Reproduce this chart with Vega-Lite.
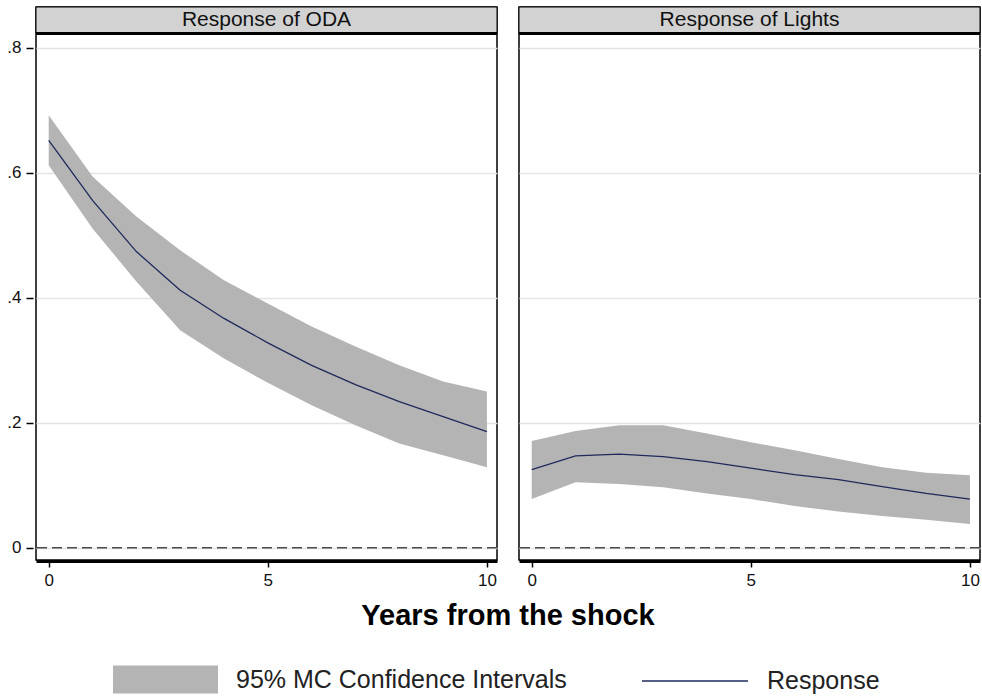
{
  "$schema": "https://vega.github.io/schema/vega-lite/v6.json",
  "background": "white",
  "padding": {"left": 6, "top": 5, "right": 0, "bottom": 0},
  "data": {"values": [
    {"panel": "Response of ODA", "x": 0, "y": 0.652, "lo": 0.612, "hi": 0.692},
    {"panel": "Response of ODA", "x": 1, "y": 0.556, "lo": 0.511, "hi": 0.594},
    {"panel": "Response of ODA", "x": 2, "y": 0.474, "lo": 0.426, "hi": 0.530},
    {"panel": "Response of ODA", "x": 3, "y": 0.412, "lo": 0.348, "hi": 0.476},
    {"panel": "Response of ODA", "x": 4, "y": 0.367, "lo": 0.303, "hi": 0.428},
    {"panel": "Response of ODA", "x": 5, "y": 0.328, "lo": 0.264, "hi": 0.391},
    {"panel": "Response of ODA", "x": 6, "y": 0.292, "lo": 0.228, "hi": 0.354},
    {"panel": "Response of ODA", "x": 7, "y": 0.261, "lo": 0.196, "hi": 0.322},
    {"panel": "Response of ODA", "x": 8, "y": 0.234, "lo": 0.167, "hi": 0.292},
    {"panel": "Response of ODA", "x": 9, "y": 0.210, "lo": 0.148, "hi": 0.266},
    {"panel": "Response of ODA", "x": 10, "y": 0.186, "lo": 0.129, "hi": 0.250},
    {"panel": "Response of Lights", "x": 0, "y": 0.125, "lo": 0.078, "hi": 0.171},
    {"panel": "Response of Lights", "x": 1, "y": 0.147, "lo": 0.105, "hi": 0.187},
    {"panel": "Response of Lights", "x": 2, "y": 0.150, "lo": 0.102, "hi": 0.196},
    {"panel": "Response of Lights", "x": 3, "y": 0.146, "lo": 0.097, "hi": 0.196},
    {"panel": "Response of Lights", "x": 4, "y": 0.138, "lo": 0.087, "hi": 0.183},
    {"panel": "Response of Lights", "x": 5, "y": 0.1275, "lo": 0.078, "hi": 0.169},
    {"panel": "Response of Lights", "x": 6, "y": 0.117, "lo": 0.067, "hi": 0.156},
    {"panel": "Response of Lights", "x": 7, "y": 0.109, "lo": 0.058, "hi": 0.142},
    {"panel": "Response of Lights", "x": 8, "y": 0.098, "lo": 0.051, "hi": 0.129},
    {"panel": "Response of Lights", "x": 9, "y": 0.087, "lo": 0.045, "hi": 0.120},
    {"panel": "Response of Lights", "x": 10, "y": 0.078, "lo": 0.038, "hi": 0.116}
  ]},
  "facet": {
    "column": {
      "field": "panel", "type": "nominal",
      "sort": ["Response of ODA", "Response of Lights"],
      "header": {
        "labels": false,
        "title": "Years from the shock",
        "titleOrient": "bottom",
        "titleFont": "Liberation Sans",
        "titleFontSize": 29,
        "titleFontWeight": "bold",
        "titleColor": "black",
        "titlePadding": 4
      }
    }
  },
  "spacing": 16,
  "spec": {
    "width": 461,
    "height": 553,
    "layer": [
      {
        "mark": {"type": "rect", "fill": "#d2d2d2", "stroke": "black", "strokeWidth": 1},
        "transform": [{"filter": "datum.x == 0"}],
        "encoding": {
          "y": {"datum": 0.823, "type": "quantitative"},
          "y2": {"datum": 0.8653}
        }
      },
      {
        "mark": {"type": "rule", "color": "#4a4a4a", "strokeWidth": 1.6, "strokeDash": [10, 5]},
        "transform": [{"filter": "datum.x == 0"}],
        "encoding": {"y": {"datum": 0, "type": "quantitative"}}
      },
      {
        "mark": {"type": "area", "opacity": 1},
        "encoding": {
          "x": {
            "field": "x", "type": "quantitative",
            "scale": {"domain": [-0.29, 10.23], "nice": false, "zero": false},
            "axis": {
              "values": [0, 5, 10], "title": null, "grid": false,
              "domain": true, "domainColor": "black", "domainWidth": 3,
              "tickColor": "black", "tickSize": 6, "tickWidth": 1.5,
              "labelFont": "Liberation Sans", "labelFontSize": 17, "labelColor": "#111111",
              "labelPadding": 5
            }
          },
          "y": {
            "field": "lo", "type": "quantitative",
            "scale": {"domain": [-0.0195, 0.8653], "nice": false, "zero": false},
            "axis": {
              "values": [0, 0.2, 0.4, 0.6, 0.8], "title": null,
              "labelExpr": "datum.value == 0 ? '0' : replace(format(datum.value, '.1f'), '0.', '.')",
              "grid": true, "gridColor": "#e4e4e4", "gridWidth": 1.5,
              "domain": false, "tickColor": "black", "tickSize": 7, "tickWidth": 1.5,
              "labelFont": "Liberation Sans", "labelFontSize": 17, "labelColor": "#111111",
              "labelPadding": 5
            }
          },
          "y2": {"field": "hi"},
          "fill": {
            "datum": "95% MC Confidence Intervals", "type": "nominal",
            "scale": {"range": ["#b4b4b4"]},
            "legend": {
              "orient": "none", "legendX": 77, "legendY": 620,
              "title": null,
              "symbolType": "M-1,-0.267V0.267H1V-0.267Z",
              "symbolSize": 11025, "symbolStrokeWidth": 0, "symbolOpacity": 1,
              "labelFont": "Liberation Sans", "labelFontSize": 25, "labelColor": "#222222",
              "labelOffset": 18, "labelLimit": 500
            }
          }
        }
      },
      {
        "mark": {"type": "line", "strokeWidth": 1.3},
        "encoding": {
          "x": {"field": "x", "type": "quantitative"},
          "y": {"field": "y", "type": "quantitative"},
          "stroke": {
            "datum": "Response", "type": "nominal",
            "scale": {"range": ["#1f2a5c"]},
            "legend": {
              "orient": "none", "legendX": 605, "legendY": 620,
              "title": null,
              "symbolType": "stroke",
              "symbolSize": 11236, "symbolStrokeWidth": 1.5,
              "labelFont": "Liberation Sans", "labelFontSize": 25, "labelColor": "#222222",
              "labelOffset": 18, "labelLimit": 300
            }
          }
        }
      },
      {
        "mark": {"type": "rule", "color": "black", "strokeWidth": 3},
        "transform": [{"filter": "datum.x == 0"}],
        "encoding": {"y": {"datum": 0.823, "type": "quantitative"}}
      },
      {
        "mark": {"type": "text", "font": "Liberation Sans", "fontSize": 21, "color": "#111111", "align": "center", "baseline": "middle"},
        "transform": [{"filter": "datum.x == 0"}],
        "encoding": {
          "x": {"datum": 4.97, "type": "quantitative"},
          "y": {"datum": 0.8441, "type": "quantitative"},
          "text": {"field": "panel", "type": "nominal"}
        }
      }
    ]
  },
  "config": {
    "view": {"stroke": "black", "strokeWidth": 1.5},
    "font": "Liberation Sans"
  }
}
